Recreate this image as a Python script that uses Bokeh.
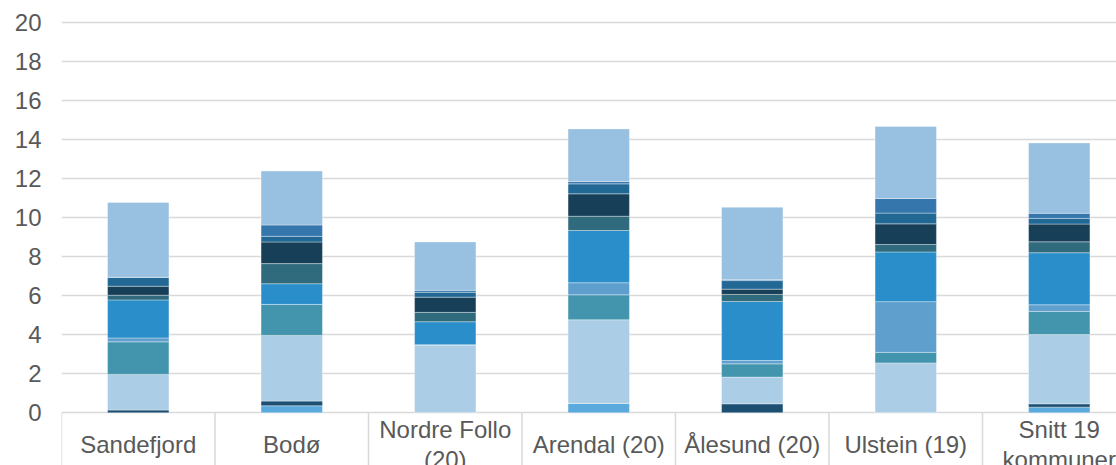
from bokeh.plotting import figure
from bokeh.models import ColumnDataSource, Range1d, FixedTicker
from bokeh.core.properties import value
from bokeh.embed import file_html
from bokeh.resources import INLINE

categories = ["Sandefjord", "Bodø", "Nordre Follo\n(20)", "Arendal (20)",
              "Ålesund (20)", "Ulstein (19)", "Snitt 19\nkommuner"]

s01 = [0.00, 0.36, 0.00, 0.49, 0.00, 0.00, 0.29]
s02 = [0.14, 0.24, 0.00, 0.00, 0.46, 0.00, 0.17]
s03 = [1.83, 3.37, 3.49, 4.28, 1.37, 2.56, 3.55]
s04 = [1.67, 1.59, 0.00, 1.28, 0.68, 0.54, 1.19]
s05 = [0.20, 0.00, 0.00, 0.62, 0.17, 2.60, 0.34]
s06 = [1.95, 1.06, 1.18, 2.68, 3.03, 2.55, 2.67]
s07 = [0.24, 1.03, 0.48, 0.73, 0.36, 0.38, 0.56]
s08 = [0.46, 1.11, 0.78, 1.15, 0.27, 1.06, 0.91]
s09 = [0.46, 0.29, 0.25, 0.51, 0.44, 0.55, 0.29]
s10 = [0.00, 0.58, 0.10, 0.12, 0.05, 0.75, 0.26]
s11 = [3.83, 2.77, 2.48, 2.70, 3.71, 3.69, 3.61]

y_ticks = [0, 2, 4, 6, 8, 10, 12, 14, 16, 18, 20]

series = ["s01", "s02", "s03", "s04", "s05", "s06", "s07", "s08", "s09", "s10", "s11"]
colors = ["#5aaadd", "#1d4f73", "#abcde6", "#4394ad", "#5e9fce", "#2a8ecb",
          "#2f6a7d", "#173f58", "#216895", "#3577ad", "#97c0e1"]

n = len(categories)
xs = [i + 0.5 for i in range(n)]
data = dict(x=xs, s01=s01, s02=s02, s03=s03, s04=s04, s05=s05, s06=s06,
            s07=s07, s08=s08, s09=s09, s10=s10, s11=s11)
source = ColumnDataSource(data)

W, H = 1116, 465
left = 61
px_per_cat = 153.5
y_top, y_bot = 21.144, -2.703

p = figure(width=W, height=H, output_backend="svg", toolbar_location=None,
           x_range=Range1d(0, (W - left) / px_per_cat), y_range=Range1d(y_bot, y_top),
           min_border=0, min_border_left=left)
p.outline_line_color = None
p.background_fill_color = "white"
p.border_fill_color = "white"

p.xaxis.visible = False
p.xgrid.visible = False

p.yaxis.ticker = FixedTicker(ticks=y_ticks)
p.yaxis.axis_line_color = None
p.yaxis.major_tick_line_color = None
p.yaxis.minor_tick_line_color = None
p.yaxis.major_tick_in = 0
p.yaxis.major_tick_out = 0
p.yaxis.major_label_text_font = "Liberation Sans"
p.yaxis.major_label_text_font_size = "24px"
p.yaxis.major_label_text_color = "#595959"
p.yaxis.major_label_standoff = 20
p.ygrid.ticker = FixedTicker(ticks=y_ticks)
p.ygrid.grid_line_color = "#d9d9d9"
p.ygrid.grid_line_width = 1.5

# category separators below the axis
bounds = list(range(n + 1))
p.segment(x0=bounds, y0=[0] * len(bounds), x1=bounds, y1=[y_bot] * len(bounds),
          line_color="#d9d9d9", line_width=1.5)

p.vbar_stack(series, x="x", width=0.4, source=source, color=colors,
             line_color="white", line_alpha=0.35, line_width=1)

p.text(x=xs, y=[-1.62] * n, text=categories, text_align="center",
       text_baseline="middle", text_font=value("Liberation Sans"),
       text_font_size="24px", text_color="#595959", text_line_height=1.1)

open("out.html", "w").write(file_html(p, INLINE))
